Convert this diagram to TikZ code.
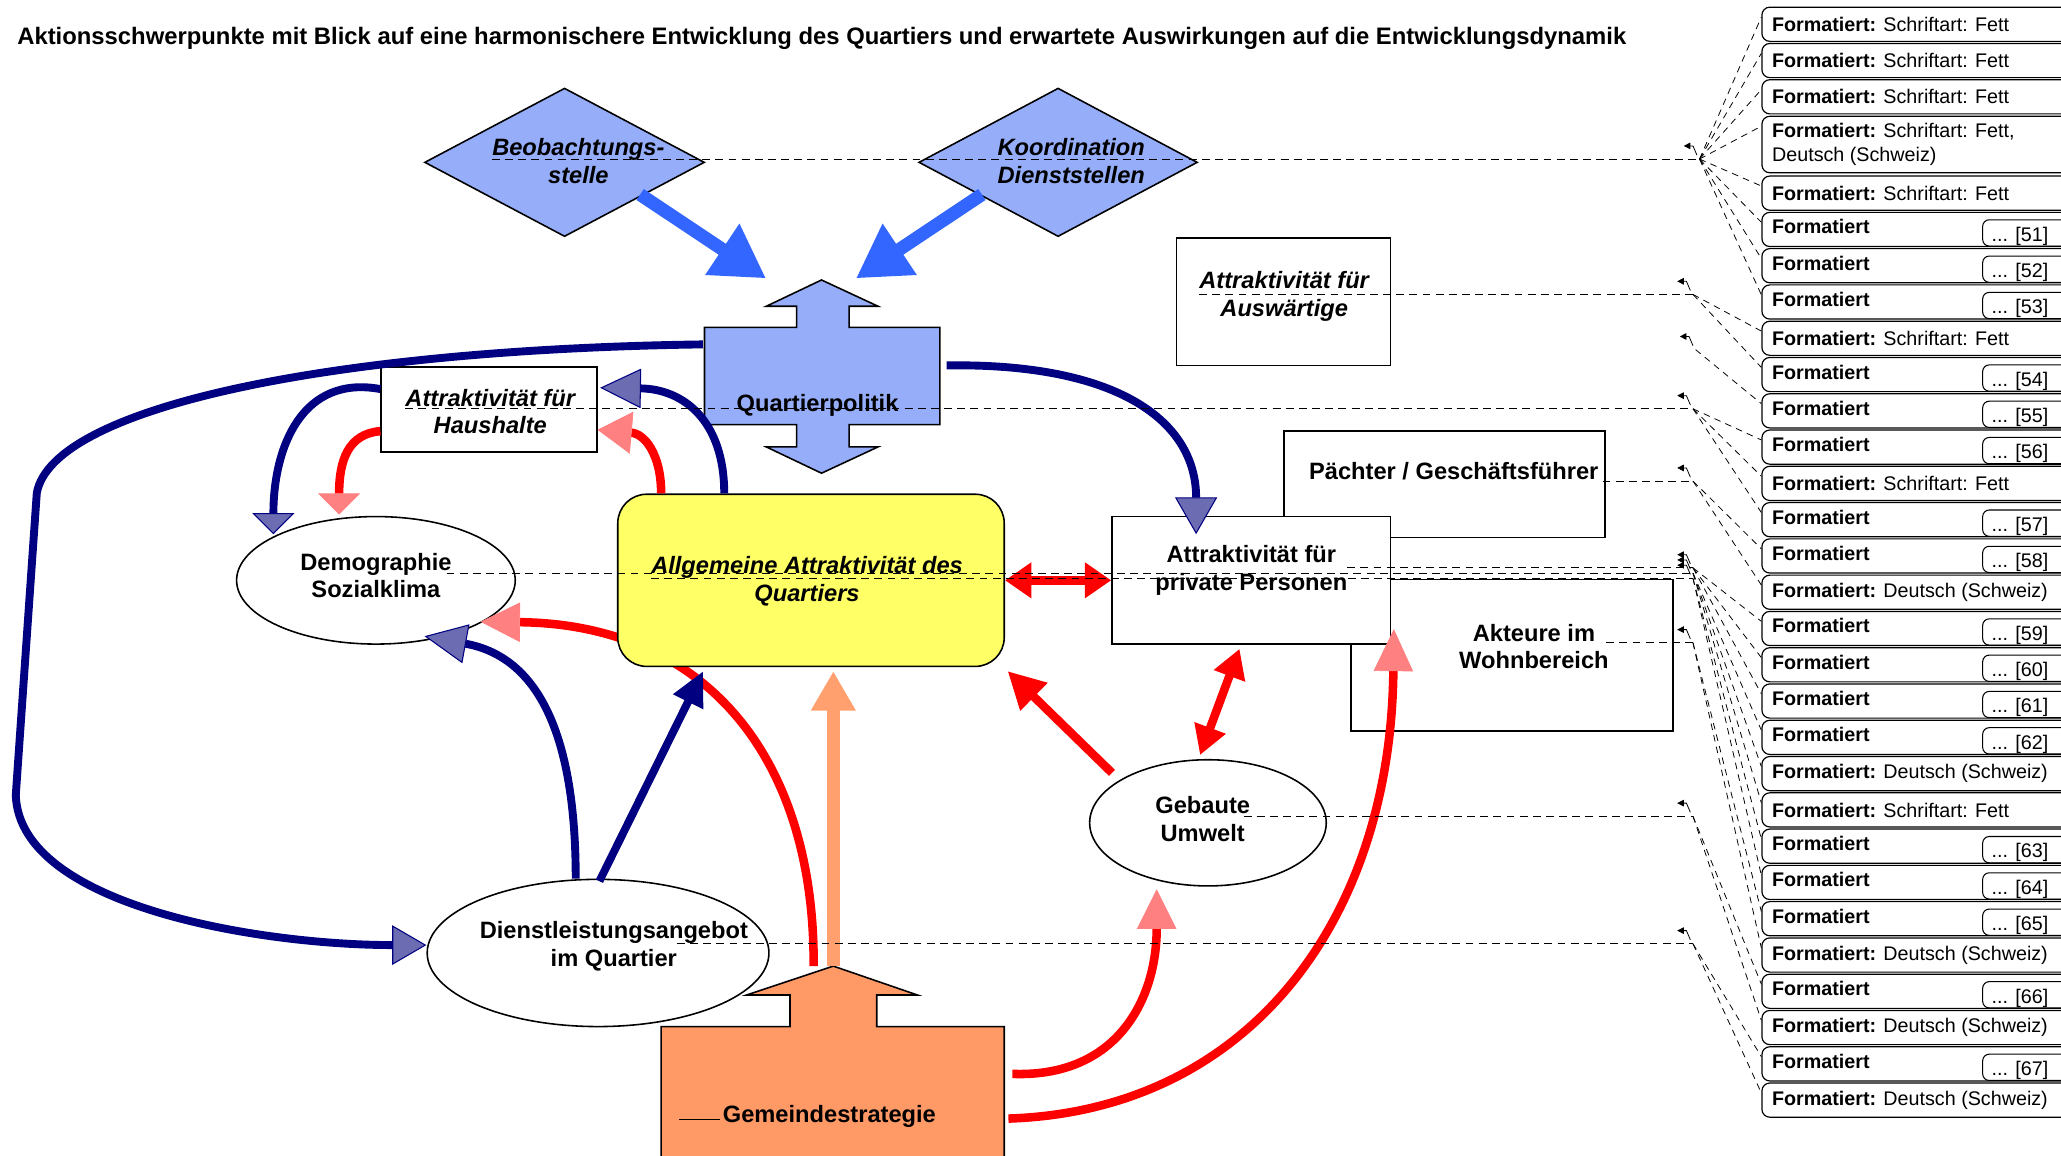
\documentclass[tikz,border=0pt]{standalone}
\usepackage{fontspec}
\setmainfont{Liberation Sans}
\usetikzlibrary{arrows.meta,calc,shapes.geometric}
\definecolor{navyc}{RGB}{0,0,128}
\definecolor{navyhatch}{RGB}{108,108,178}
\definecolor{pinkhatch}{RGB}{255,128,128}
\definecolor{redc}{RGB}{255,0,0}
\definecolor{bigblue}{RGB}{51,102,255}
\definecolor{qpblue}{RGB}{150,174,250}
\definecolor{yelc}{RGB}{255,255,102}
\definecolor{gemor}{RGB}{255,153,102}
\definecolor{arrowor}{RGB}{255,160,110}
\tikzset{
  lbl/.style={font=\bfseries\fontsize{18}{21}\selectfont, align=center, inner sep=0pt},
  ilbl/.style={font=\bfseries\itshape\fontsize{18}{21}\selectfont, align=center, inner sep=0pt},
  rbox/.style={draw, line width=1.2pt, fill=white, inner sep=0pt},
  ell/.style={ellipse, draw, line width=1.2pt, fill=white, inner sep=0pt},
  navyline/.style={draw=navyc, line width=6pt},
  redline/.style={draw=redc, line width=6.5pt},
  leader/.style={dash pattern=on 6pt off 4pt, line width=0.8pt},
  fanline/.style={dash pattern=on 5pt off 4pt, line width=0.6pt},
  cbox/.style={draw, rounded corners=6pt, line width=0.9pt, fill=white, minimum width=240pt, inner sep=0pt, anchor=north west},
  ctext/.style={font=\fontsize{15}{18}\selectfont, inner sep=0pt, align=left},
}
\newcommand{\cmtA}[3]{%
  \node[cbox, minimum height=26pt] (#1) at (1340,#2) {};
  \node[ctext, anchor=west] (#1t) at (1348,#2+13.5) {\textbf{Formatiert:} #3};}
\newcommand{\cmtB}[3]{%
  \node[cbox, minimum height=26pt] (#1) at (1340,#2) {};
  \node[ctext, anchor=west] (#1t) at (1348,#2+11.5) {\textbf{Formatiert}};
  \node[draw, rounded corners=5pt, line width=0.8pt, minimum width=70pt, minimum height=20pt, inner sep=0pt, anchor=south west] (#1b) at (1508,#2+26.5) {};
  \node[ctext, anchor=west] (#1n) at (1515,#2+18.5) {... [#3]};}
\newcommand{\fanto}[2]{\draw[fanline] (#1) -- ($(#2.north west)+(0,8)$);}
\newcommand{\lmark}[1]{\draw[line width=0.6pt, -{Triangle[length=5pt,width=5pt]}] ($(#1)+(-2,-3)$) -- ($(#1)+(-5,-10)$) -- ($(#1)+(-12,-10)$);}
\begin{document}
\begin{tikzpicture}[x=1pt,y=-1pt]
\useasboundingbox (0,0) rectangle (1568,879);
\fill[white] (0,0) rectangle (1568,879);

% title
\node[anchor=west, inner sep=0pt, font=\bfseries\fontsize{18.13}{21}\selectfont] (title) at (13,29)
 {Aktionsschwerpunkte mit Blick auf eine harmonischere Entwicklung des Quartiers und erwartete Auswirkungen auf die Entwicklungsdynamik};

% boxes on the right
\node[rbox, minimum width=244pt, minimum height=81pt] (pae) at (1099,368.5) {};
\node[rbox, minimum width=245pt, minimum height=115pt] (akt) at (1150.5,498.5) {};
\node[rbox, minimum width=212pt, minimum height=97pt] (pp) at (952,441.5) {};
\node[rbox, minimum width=163pt, minimum height=97pt] (aus) at (976.5,229.5) {};
\node[rbox, minimum width=164pt, minimum height=65pt] (hh) at (372,311.5) {};
\node[ell, minimum width=212pt, minimum height=97pt] (dem) at (286,441.5) {};
\node[ell, minimum width=180pt, minimum height=96pt] (geb) at (919,626) {};
\node[ell, minimum width=260pt, minimum height=112pt] (dl) at (455,725) {};

% diamonds
\node[diamond, draw, line width=1.2pt, fill=qpblue, minimum width=213pt, minimum height=113pt, inner sep=0pt] (beo) at (429.5,123.5) {};
\node[diamond, draw, line width=1.2pt, fill=qpblue, minimum width=212pt, minimum height=113pt, inner sep=0pt] (koo) at (805,123.5) {};

% Quartierpolitik
\draw[line width=1.2pt, fill=qpblue] (536,249) -- (606,249) -- (606,233) -- (583,233) -- (625,213) -- (668,233) -- (646,233) -- (646,249) -- (715,249) -- (715,323) -- (646,323) -- (646,340) -- (668,340) -- (625,360) -- (583,340) -- (606,340) -- (606,323) -- (536,323) -- cycle;
\node[minimum width=179pt, minimum height=74pt, inner sep=0pt] (qp) at (625.5,286) {};

% Gemeindestrategie
\fill[gemor] (503,781) -- (601,781) -- (601,757) -- (568,757) -- (634,735) -- (698,757) -- (667,757) -- (667,781) -- (764,781) -- (764,885) -- (503,885) -- cycle;
\draw[line width=1.2pt] (503,885) -- (503,781) -- (601,781) -- (601,757) -- (568,757) -- (634,735) -- (698,757) -- (667,757) -- (667,781) -- (764,781) -- (764,885);
\node[minimum width=261pt, minimum height=98pt, inner sep=0pt] (gem) at (633.5,830) {};
\coordinate (gemtip) at (634,735);

% red curve behind yellow box
\draw[redline, -{Triangle[width=30pt,length=30pt,line width=0.5pt,color=pinkhatch,fill=pinkhatch]}]
  ($(gemtip)+(-15,0)$) .. controls (620,580) and (540,475) .. ($(dem.east)+(-27,31.5)$);

% yellow box
\node[draw, line width=1.2pt, fill=yelc, rounded corners=22pt, minimum width=294pt, minimum height=131pt, inner sep=0pt] (yel) at (617,441.5) {};

% big blue arrows
\draw[draw=bigblue, line width=10pt, -{Triangle[width=44pt,length=40pt,color=bigblue]}] ($(beo)+(57.5,24.5)$) -- ($(qp.north west)+(47,-37)$);
\draw[draw=bigblue, line width=10pt, -{Triangle[width=44pt,length=40pt,color=bigblue]}] ($(koo)+(-58,24.5)$) -- ($(qp.north east)+(-64,-37)$);

% navy connectors
\draw[navyline, -{Triangle[width=30pt,length=26pt,line width=0.8pt,color=navyc,fill=navyhatch]}]
  ($(qp.west)+(-1,-24)$) .. controls (250,266) and (40,310) .. (28,375) -- (12,605) .. controls (15,690) and (200,719) .. ($(dl.west)+(0,-6)$);
\draw[navyline, -{Triangle[width=32pt,length=28pt,line width=0.8pt,color=navyc,fill=navyhatch]}]
  ($(qp.east)+(5,-8)$) .. controls (850,276) and (910,320) .. ($(pp.north)+(-42,14)$);
\draw[navyline, -{Triangle[width=30pt,length=31pt,line width=0.8pt,color=navyc,fill=navyhatch]}]
  ($(yel.north)+(-66,0)$) .. controls (551,320) and (520,296) .. ($(hh.east)+(2,-16.5)$);
\draw[navyline, -{Triangle[width=32pt,length=16pt,line width=0.8pt,color=navyc,fill=navyhatch]}]
  ($(hh.west)+(0,-15.5)$) .. controls (230,285) and (208,340) .. ($(dem.north)+(-78,14)$);
\draw[navyline, -{Triangle[width=30pt,length=32pt,line width=0.8pt,color=navyc,fill=navyhatch]}]
  ($(dl.north)+(-17,0)$) .. controls (438,560) and (410,500) .. ($(dem)+(37,42.5)$);
\draw[navyline, -{Triangle[width=24pt,length=26pt,color=navyc]}]
  ($(dl.north)+(1,2)$) -- ($(yel.south)+(-82,3)$);

% red connectors
\draw[redline, -{Triangle[width=32pt,length=26pt,line width=0.5pt,color=pinkhatch,fill=pinkhatch]}]
  ($(yel.north)+(-114,0)$) .. controls (503,345) and (490,330) .. ($(hh.east)+(0,15.5)$);
\draw[redline, -{Triangle[width=32pt,length=16pt,line width=0.5pt,color=pinkhatch,fill=pinkhatch]}]
  ($(hh.west)+(0,16.5)$) .. controls (265,330) and (258,350) .. ($(dem.north)+(-28,-1)$);
\draw[redline, line width=7pt, {Triangle[width=26pt,length=20pt,color=redc]}-{Triangle[width=26pt,length=20pt,color=redc]}]
  (yel.east) -- (pp.west);
\draw[redline, -{Triangle[width=28pt,length=28pt,color=redc]}]
  ($(geb)+(-73,-38)$) -- ($(yel.south east)+(2,3)$);
\draw[redline, {Triangle[width=24pt,length=22pt,color=redc]}-{Triangle[width=24pt,length=22pt,color=redc]}]
  ($(geb.north)+(-6,-3)$) -- ($(pp.south)+(-9,3)$);
\draw[redline, -{Triangle[width=30pt,length=30pt,line width=0.5pt,color=pinkhatch,fill=pinkhatch]}]
  ($(gem.east)+(6,-13)$) .. controls (850,820) and (880,760) .. ($(geb.south)+(-39,2)$);
\draw[redline, -{Triangle[width=30pt,length=32pt,line width=0.5pt,color=pinkhatch,fill=pinkhatch]}]
  ($(gem.east)+(3,21)$) .. controls (950,845) and (1058,700) .. ($(akt.south west)+(33,-78)$);

% orange arrow
\draw[draw=arrowor, line width=10pt, -{Triangle[width=32pt,length=30pt,color=arrowor]}] (gemtip) -- ($(yel.south)+(17,3)$);

% labels
\node[ilbl] (beoT) at (440,122.5) {Beobachtungs-\\stelle};
\node[ilbl] (kooT) at (815,122.5) {Koordination\\Dienststellen};
\node[lbl] (qpT) at (622,308.5) {Quartierpolitik};
\node[ilbl] (hhT) at (373,313) {Attraktivität für\\Haushalte};
\node[ilbl] (ausT) at (977,225.5) {Attraktivität für\\Auswärtige};
\node[lbl] (paeT) at (1106,358.5) {Pächter / Geschäftsführer};
\node[lbl] (ppT) at (952,434) {Attraktivität für\\private Personen};
\node[lbl] (aktT) at (1167,492) {Akteure im\\Wohnbereich};
\node[lbl] (demT) at (286,438) {Demographie\\Sozialklima};
\node[ilbl] (yelT) at (614,442) {Allgemeine Attraktivität des\\Quartiers};
\node[lbl] (gebT) at (915,623) {Gebaute\\Umwelt};
\node[lbl] (dlT) at (467,720) {Dienstleistungsangebot\\im Quartier};
\node[lbl] (gemT) at (631,849.5) {Gemeindestrategie};
\draw[line width=1pt] ($(gemT.west)+(-33,2)$) -- ($(gemT.west)+(-2,2)$);

% junctions
\coordinate (j121) at (1293,121);
\coordinate (j224) at (1288,224);
\coordinate (j263) at (1290,266);
\coordinate (j311) at (1288,311);
\coordinate (j366) at (1288,366);
\coordinate (j432) at (1288,432);
\coordinate (j436) at (1288,436);
\coordinate (j440) at (1288,440);
\coordinate (j489) at (1288,489);
\coordinate (j621) at (1288,621);
\coordinate (j718) at (1288,718);

% leader lines
\draw[leader] ($(beoT.west)+(0,-1.5)$) -- (j121);
\draw[leader] ($(ausT.west)+(0,-1.5)$) -- (j224);
\draw[leader] ($(hhT.west)+(0,-2)$) -- (j311);
\draw[leader] ($(paeT.east)+(3,7.5)$) -- (j366);
\draw[leader] ($(ppT.center)+(73,-2)$) -- (j432);
\draw[leader] ($(demT.east)+(-4,-2)$) -- (j436);
\draw[leader] ($(yelT.west)+(0,-2)$) -- (j440);
\draw[leader] ($(aktT.east)+(-2,-3)$) -- (j489);
\draw[leader] ($(gebT.east)+(-5,-2)$) -- (j621);
\draw[leader] ($(dlT.center)+(48,-2)$) -- (j718);
\foreach \j in {j121,j224,j263,j311,j366,j432,j436,j440,j489,j621,j718} {\lmark{\j}}

% comment boxes
\cmtA{c1}{5}{Schriftart: Fett}
\cmtA{c2}{32.6}{Schriftart: Fett}
\cmtA{c3}{60.2}{Schriftart: Fett}
\node[cbox, minimum height=43pt] (c4) at (1340,88) {};
\node[ctext, anchor=north west] (c4t) at (1348,93.5) {\textbf{Formatiert:} Schriftart: Fett,\\Deutsch (Schweiz)};
\cmtA{c5}{133.5}{Schriftart: Fett}
\cmtB{c6}{161.1}{51}
\cmtB{c7}{188.7}{52}
\cmtB{c8}{216.3}{53}
\cmtA{c9}{243.9}{Schriftart: Fett}
\cmtB{c10}{271.5}{54}
\cmtB{c11}{299.1}{55}
\cmtB{c12}{326.7}{56}
\cmtA{c13}{354.3}{Schriftart: Fett}
\cmtB{c14}{381.9}{57}
\cmtB{c15}{409.5}{58}
\cmtA{c16}{437.1}{Deutsch (Schweiz)}
\cmtB{c17}{464.7}{59}
\cmtB{c18}{492.3}{60}
\cmtB{c19}{519.9}{61}
\cmtB{c20}{547.5}{62}
\cmtA{c21}{575.1}{Deutsch (Schweiz)}
\cmtA{c22}{602.7}{Schriftart: Fett}
\cmtB{c23}{630.3}{63}
\cmtB{c24}{657.9}{64}
\cmtB{c25}{685.5}{65}
\cmtA{c26}{713.1}{Deutsch (Schweiz)}
\cmtB{c27}{740.7}{66}
\cmtA{c28}{768.3}{Deutsch (Schweiz)}
\cmtB{c29}{795.9}{67}
\cmtA{c30}{823.5}{Deutsch (Schweiz)}

% fan lines
\foreach \c in {c1,c2,c3,c4,c5,c6,c7,c8} {\fanto{j121}{\c}}
\foreach \c in {c9,c10} {\fanto{j224}{\c}}
\fanto{j263}{c11}
\foreach \c in {c12,c13,c14} {\fanto{j311}{\c}}
\foreach \c in {c15,c16} {\fanto{j366}{\c}}
\foreach \c in {c17,c18,c19} {\fanto{j432}{\c}}
\foreach \c in {c20,c21,c22} {\fanto{j436}{\c}}
\foreach \c in {c23,c24} {\fanto{j440}{\c}}
\foreach \c in {c25,c26} {\fanto{j489}{\c}}
\foreach \c in {c27,c28} {\fanto{j621}{\c}}
\foreach \c in {c29,c30} {\fanto{j718}{\c}}
\end{tikzpicture}
\end{document}
